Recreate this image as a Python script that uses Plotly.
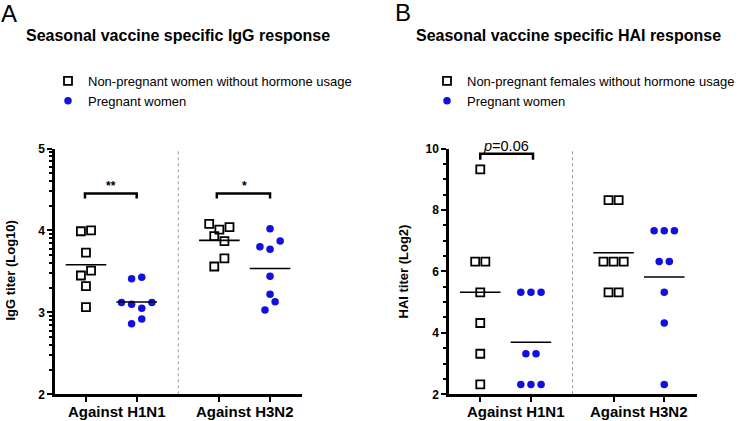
import numpy as np
import plotly.graph_objects as go

# ---------------- data ----------------
groups = ["Against H1N1", "Against H3N2"]

# Panel A: IgG titer (Log10)
igg_np_h1 = [3.99, 4.00, 3.73, 3.51, 3.45, 3.32, 3.065]
igg_pw_h1 = [3.41, 3.43, 3.12, 3.10, 3.05, 3.12, 2.86, 2.92]
igg_np_h3 = [4.08, 4.01, 4.04, 3.93, 3.87, 3.66, 3.56]
igg_pw_h3 = [4.02, 3.87, 3.80, 3.77, 3.44, 3.22, 3.13, 3.03]

# Panel B: HAI titer (Log2)
hai_np_h1 = [9.32, 6.32, 6.32, 5.32, 4.32, 3.32, 2.32]
hai_pw_h1 = [5.32, 5.32, 5.32, 3.32, 3.32, 2.32, 2.32, 2.32]
hai_np_h3 = [8.32, 8.32, 6.32, 6.32, 6.32, 5.32, 5.32]
hai_pw_h3 = [7.32, 7.32, 7.32, 6.32, 6.32, 5.32, 4.32, 2.32]

sig_a = ["**", "*"]
sig_b = "<i>p</i>=0.06"

# ---------------- style / layout helpers ----------------
BLUE = "#1010e0"
FONT = "Liberation Sans, Arial, sans-serif"
pos = [0.0, 1.0, 2.63, 3.63]          # category slot positions on the x axis
sep_x = 1.82
# horizontal scatter offsets (scatter-dot arrangement)
off_igg_np_h1 = [-0.1, 0.1, 0, 0.1, -0.1, 0, 0]
off_igg_pw_h1 = [-0.1, 0.1, -0.3, -0.1, 0.1, 0.3, -0.1, 0.1]
off_igg_np_h3 = [-0.2, 0, 0.2, -0.1, 0.1, 0.1, -0.1]
off_igg_pw_h3 = [0, 0.2, -0.2, 0, 0, 0, 0.1, -0.1]
off_hai_np_h1 = [0, -0.1, 0.1, 0, 0, 0, 0]
off_hai_pw_h1 = [-0.2, 0, 0.2, -0.1, 0.1, -0.2, 0, 0.2]
off_hai_np_h3 = [-0.1, 0.1, -0.2, 0, 0.2, -0.1, 0.1]
off_hai_pw_h3 = [-0.2, 0, 0.2, -0.1, 0.1, 0, 0, 0]

fig = go.Figure()

def add_series(vals, offs, p, xa, ya, kind, name, show, legend):
    x = [p + o for o in offs]
    if kind == "sq":
        marker = dict(symbol="square-open", size=8, color="black", line=dict(width=1.8, color="black"))
    else:
        marker = dict(symbol="circle", size=7.5, color=BLUE, line=dict(width=0))
    fig.add_trace(go.Scatter(x=x, y=vals, mode="markers", marker=marker, name=name,
                             showlegend=show, legend=legend, xaxis=xa, yaxis=ya,
                             hoverinfo="y"))
    m = float(np.mean(vals))
    fig.add_trace(go.Scatter(x=[p - 0.4, p + 0.4], y=[m, m], mode="lines",
                             line=dict(color="black", width=1.6), showlegend=False,
                             xaxis=xa, yaxis=ya, hoverinfo="skip"))

nameA_np = "Non-pregnant women without hormone usage"
nameB_np = "Non-pregnant females without hormone usage"
name_pw = "Pregnant women"

add_series(igg_np_h1, off_igg_np_h1, pos[0], "x", "y", "sq", nameA_np, True, "legend")
add_series(igg_pw_h1, off_igg_pw_h1, pos[1], "x", "y", "ci", name_pw, True, "legend")
add_series(igg_np_h3, off_igg_np_h3, pos[2], "x", "y", "sq", nameA_np, False, "legend")
add_series(igg_pw_h3, off_igg_pw_h3, pos[3], "x", "y", "ci", name_pw, False, "legend")

add_series(hai_np_h1, off_hai_np_h1, pos[0], "x2", "y2", "sq", nameB_np, True, "legend2")
add_series(hai_pw_h1, off_hai_pw_h1, pos[1], "x2", "y2", "ci", name_pw, True, "legend2")
add_series(hai_np_h3, off_hai_np_h3, pos[2], "x2", "y2", "sq", nameB_np, False, "legend2")
add_series(hai_pw_h3, off_hai_pw_h3, pos[3], "x2", "y2", "ci", name_pw, False, "legend2")

# brackets
def bracket(xa, ya, x0, x1, y, drop):
    fig.add_shape(type="path", xref=xa, yref=ya,
                  path=f"M {x0},{y-drop} L {x0},{y} L {x1},{y} L {x1},{y-drop}",
                  line=dict(color="black", width=2.5))

bracket("x", "y", pos[0] - 0.02, pos[1], 4.45, 0.06)
bracket("x", "y", pos[2] - 0.05, pos[3], 4.45, 0.06)
bracket("x2", "y2", pos[0], pos[1] + 0.04, 9.83, 0.2)

fig.add_annotation(x=(pos[0] + pos[1]) / 2, y=4.45, xref="x", yref="y", text="<b>" + sig_a[0] + "</b>",
                   showarrow=False, yanchor="bottom", yshift=-1, font=dict(size=12, color="black", family=FONT))
fig.add_annotation(x=(pos[2] + pos[3]) / 2, y=4.45, xref="x", yref="y", text="<b>" + sig_a[1] + "</b>",
                   showarrow=False, yanchor="bottom", yshift=-1, font=dict(size=12, color="black", family=FONT))
fig.add_annotation(x=(pos[0] + pos[1]) / 2, y=9.83, xref="x2", yref="y2", text=sig_b,
                   showarrow=False, yanchor="bottom", yshift=-2, font=dict(size=14.5, color="black", family=FONT))

# dotted separators
for xa, ya, y0, y1 in [("x", "y", 2, 5), ("x2", "y2", 2, 10)]:
    fig.add_shape(type="line", xref=xa, yref=ya, x0=sep_x, x1=sep_x, y0=y0, y1=y1,
                  line=dict(color="#999999", width=1, dash="dot"))

# category labels
label_x = [0.62, 3.13]
label_x_b = [0.70, 3.13]
for xa, lx in [("x", label_x), ("x2", label_x_b)]:
    for g, xv in zip(groups, lx):
        fig.add_annotation(x=xv, y=1 - 411 / 421, xref=xa, yref="paper", text="<b>" + g + "</b>",
                           showarrow=False, yanchor="middle", font=dict(size=15, color="black", family=FONT))

# titles, panel letters, axis titles
fig.add_annotation(x=178.3 / 750, y=1 - 35 / 421, xref="paper", yref="paper",
                   text="<b>Seasonal vaccine specific IgG response</b>", showarrow=False,
                   xanchor="center", yanchor="middle", font=dict(size=16, color="black", family=FONT))
fig.add_annotation(x=568.8 / 750, y=1 - 35 / 421, xref="paper", yref="paper",
                   text="<b>Seasonal vaccine specific HAI response</b>", showarrow=False,
                   xanchor="center", yanchor="middle", font=dict(size=16, color="black", family=FONT))
fig.add_annotation(x=-1 / 750, y=1 - 13.5 / 421, xref="paper", yref="paper", text="A", showarrow=False,
                   xanchor="left", yanchor="middle", font=dict(size=24, color="black", family=FONT))
fig.add_annotation(x=393 / 750, y=1 - 13 / 421, xref="paper", yref="paper", text="B", showarrow=False,
                   xanchor="left", yanchor="middle", font=dict(size=24, color="black", family=FONT))
fig.add_annotation(x=10 / 750, y=1 - 270.5 / 421, xref="paper", yref="paper",
                   text="<b>IgG titer (Log10)</b>", textangle=-90, showarrow=False,
                   xanchor="center", yanchor="middle", font=dict(size=13, color="black", family=FONT))
fig.add_annotation(x=403 / 750, y=1 - 271.5 / 421, xref="paper", yref="paper",
                   text="<b>HAI titer (Log2)</b>", textangle=-90, showarrow=False,
                   xanchor="center", yanchor="middle", font=dict(size=13, color="black", family=FONT))

ydom = [1 - 394.3 / 421, 1 - 148.5 / 421]
xcommon = dict(showgrid=False, zeroline=False, showline=True, linecolor="black", linewidth=2.5,
               tickmode="array", tickvals=pos, ticktext=["", "", "", ""], ticks="outside",
               ticklen=5, tickwidth=2, tickcolor="black", fixedrange=True, automargin=False)
ycommon = dict(showgrid=False, zeroline=False, showline=True, linecolor="black", linewidth=2.5,
               ticks="outside", ticklen=5, tickwidth=2, tickcolor="black", automargin=False,
               tickfont=dict(size=12, color="black", family=FONT, weight="bold"), fixedrange=True)

log_minor = [float(d + np.log10(k)) for d in (2, 3, 4) for k in range(2, 10)]

fig.update_layout(
    width=750, height=421, autosize=False,
    margin=dict(l=0, r=0, t=0, b=0, pad=0, autoexpand=False),
    plot_bgcolor="white", paper_bgcolor="white",
    font=dict(family=FONT, color="black"),
    xaxis=dict(domain=[55 / 750, 302 / 750], range=[-0.611, 4.26], anchor="y", **xcommon),
    xaxis2=dict(domain=[449 / 750, 696.7 / 750], range=[-0.617, 4.27], anchor="y2", **xcommon),
    yaxis=dict(domain=ydom, range=[2, 5], anchor="x", tickvals=[2, 3, 4, 5],
               minor=dict(tickmode="array", tickvals=log_minor, ticks="outside", ticklen=3,
                          tickwidth=1.5, tickcolor="black"), **ycommon),
    yaxis2=dict(domain=ydom, range=[2, 10], anchor="x2", tickvals=[2, 4, 6, 8, 10],
                minor=dict(dtick=0.5, tick0=0, ticks="outside", ticklen=3, tickwidth=1.5,
                           tickcolor="black"), **ycommon),
    legend=dict(x=48 / 750, y=1 - 66 / 421, xanchor="left", yanchor="top",
                font=dict(size=13, color="black", family=FONT), bgcolor="rgba(0,0,0,0)",
                tracegroupgap=0, itemclick=False),
    legend2=dict(x=427 / 750, y=1 - 66 / 421, xanchor="left", yanchor="top",
                 font=dict(size=13, color="black", family=FONT), bgcolor="rgba(0,0,0,0)",
                 tracegroupgap=0, itemclick=False),
)

fig.write_html("out.html", config={"displayModeBar": False},
               post_script="document.body.style.margin='0';document.body.style.overflow='hidden';")
